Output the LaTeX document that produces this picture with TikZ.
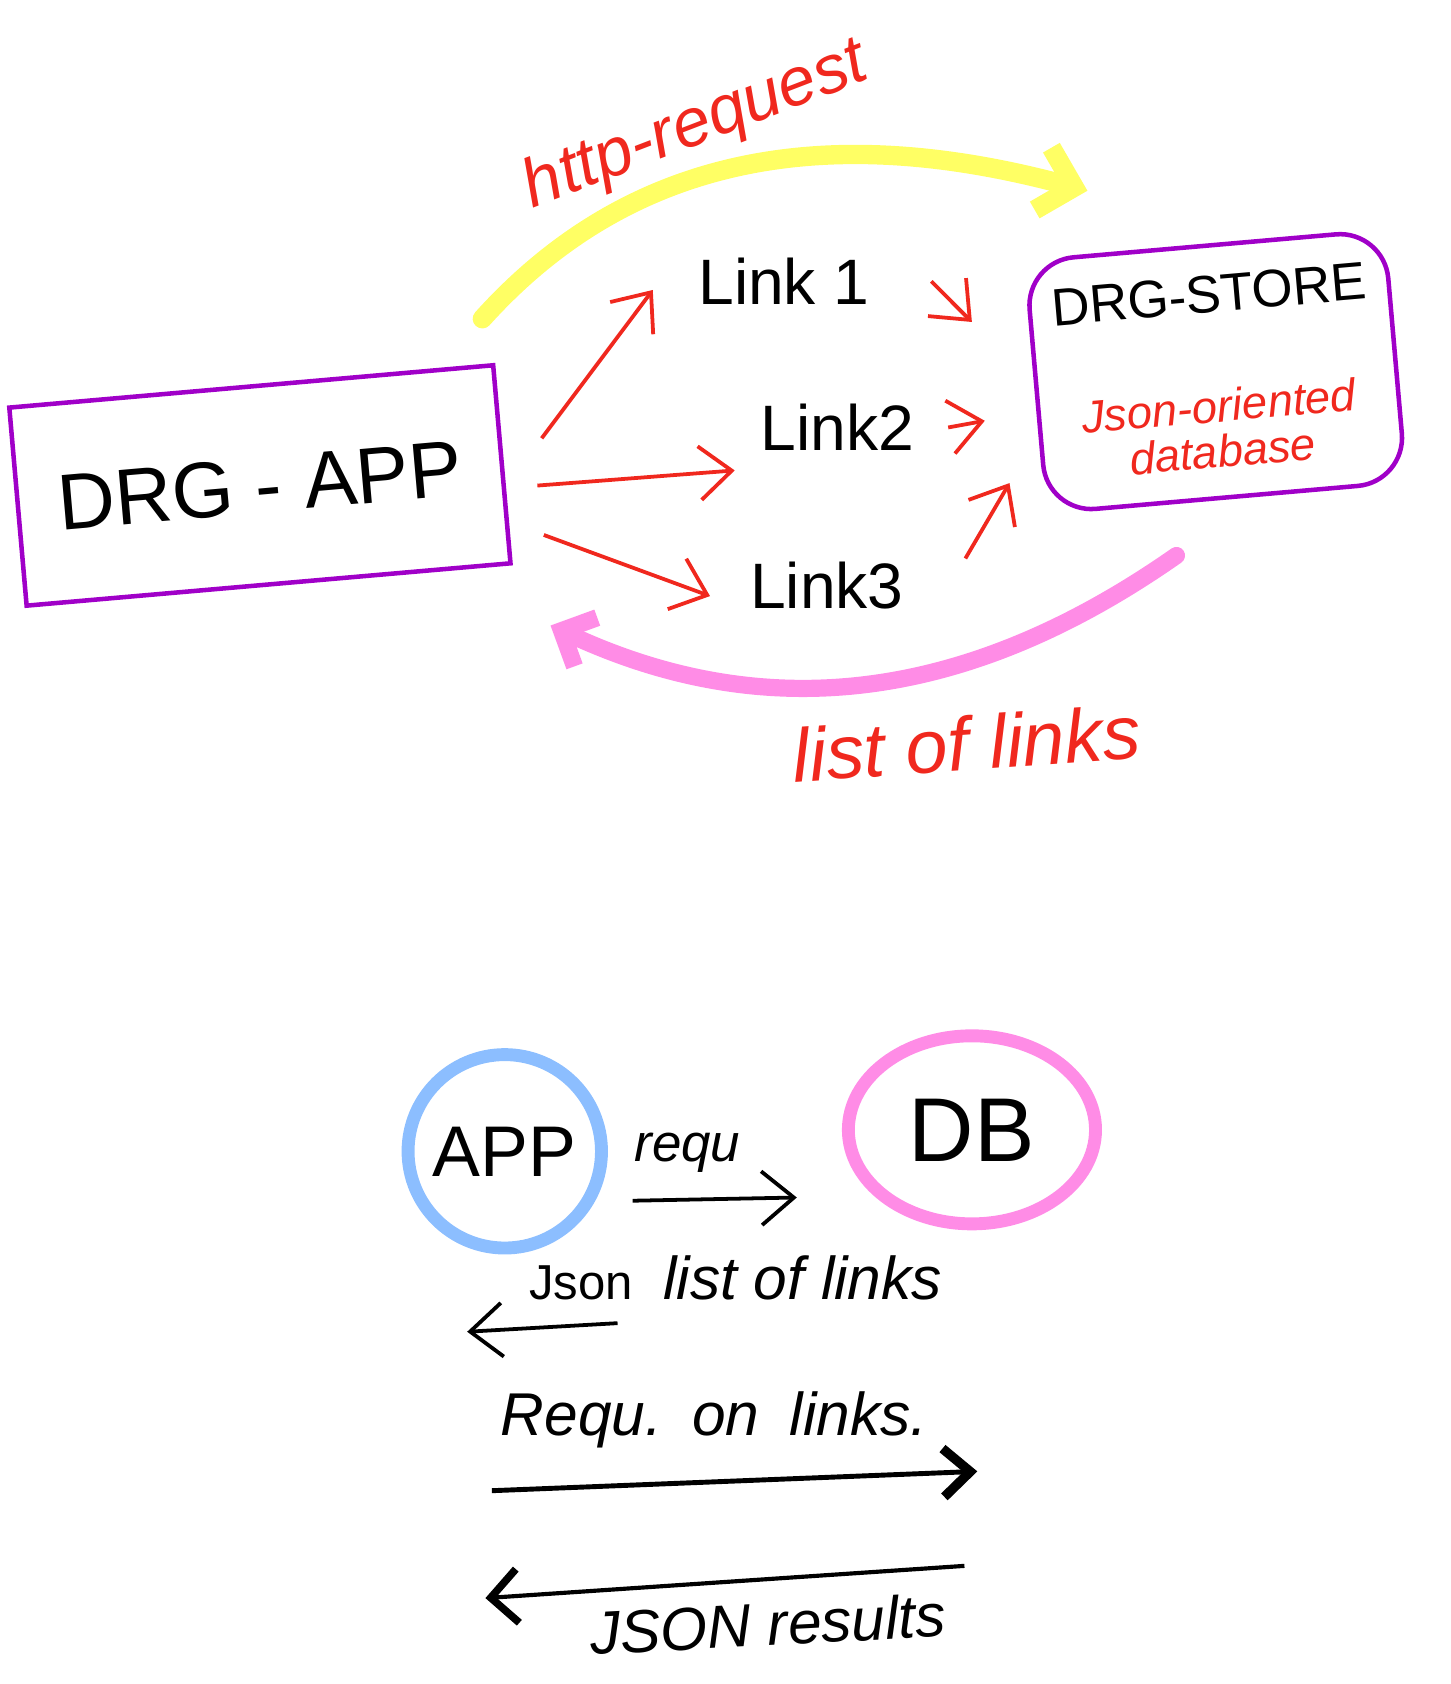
\documentclass[tikz,border=0pt]{standalone}
\usepackage{fontspec}
\setmainfont{Liberation Sans}
\usetikzlibrary{arrows.meta, shapes.geometric}

\definecolor{drgpurple}{RGB}{160,0,200}
\definecolor{drgred}{RGB}{240,40,30}
\definecolor{drgyellow}{RGB}{255,255,100}
\definecolor{drgpink}{RGB}{255,140,230}
\definecolor{drgblue}{RGB}{140,190,255}

\newcommand{\dbnote}{\color{drgred}\itshape\fontsize{12}{14}\selectfont}

\begin{document}
\begin{tikzpicture}[x=0.01cm, y=0.01cm,
  box/.style={draw=drgpurple, line width=1.2pt, rotate=5},
  linktext/.style={font=\fontsize{17}{20}\selectfont},
  redlabel/.style={text=drgred, font=\itshape\fontsize{18}{21}\selectfont},
  redarrow/.style={->, drgred, line width=1pt},
  blackarrow/.style={->, black, line width=1pt},
  >={Straight Barb[length=3mm, width=5mm]}]

% frame
\useasboundingbox (0,0) rectangle (1351,-1568);

% boxes
\node[box, minimum width=4.52cm, minimum height=1.85cm] (app) at (242,-452)
  {\fontsize{21}{25}\selectfont DRG - APP};
\node[box, rounded corners=0.45cm, minimum width=3.35cm, minimum height=2.35cm, align=center] (store) at (1132,-346)
  {\fontsize{14}{17}\selectfont DRG-STORE\\[6mm]
   \dbnote Json-oriented\\\dbnote database};

% links
\node[linktext] (link1) at (730,-262) {Link 1};
\node[linktext] (link2) at (780,-398) {Link2};
\node[linktext] (link3) at (770,-545) {Link3};

\draw[redarrow] ([shift={(35,24)}]app.east) -- ([shift={(-30,-8)}]link1.west);
\draw[redarrow] ([shift={(31,-20)}]app.east) -- ([shift={(-12,-40)}]link2.west);
\draw[redarrow] ([shift={(37,-66)}]app.east) -- ([shift={(-25,-10)}]link3.west);

\draw[redarrow] ([shift={(45,0)}]link1.east) -- ([shift={(-58,61)}]store.west);
\draw[redarrow] ([shift={(19,0)}]link2.east) -- ([shift={(-46,-31)}]store.west);
\draw[redarrow] ([shift={(45,25)}]link3.east) -- ([shift={(-23,-89)}]store.west);

% request and answer
\draw[drgyellow, line width=0.18cm, line cap=round, -{Straight Barb[length=3mm, width=6mm]}]
  ([shift={(-12,41)}]app.north east) to[out=48, in=165] ([shift={(60,64)}]store.north west);
\node[redlabel, rotate=21] (http) at (648,-118) {http-request};

\draw[drgpink, line width=0.16cm, line cap=round, -{Straight Barb[length=2.5mm, width=5mm]}]
  ([shift={(-47,-52)}]store.south) to[out=215, in=-25] ([shift={(35,-56)}]app.south east);
\node[redlabel, font=\itshape\fontsize{20}{24}\selectfont, rotate=4] (listlinks) at (900,-692) {list of links};

% short version
\node[circle, draw=drgblue, line width=0.12cm, minimum size=1.8cm, font=\fontsize{19}{23}\selectfont] (app2) at (470,-1072) {APP};
\node[ellipse, draw=drgpink, line width=0.12cm, minimum width=2.3cm, minimum height=1.75cm, font=\fontsize{24}{28}\selectfont] (db) at (905,-1052) {DB};

\draw[blackarrow] ([shift={(23,-46)}]app2.east) -- ([shift={(-42,-63)}]db.west);
\node[font=\itshape\fontsize{14}{17}\selectfont] (requ) at (640,-1073) {requ};

\coordinate (jsons) at (575,-1232);
\coordinate (jsone) at (435,-1240);
\draw[blackarrow] (jsons) -- (jsone);
\node[font=\itshape\fontsize{16}{19}\selectfont] (jsonlist) at (685,-1190)
  {{\upshape\fontsize{13}{16}\selectfont Json}\enspace list of links};

\coordinate (links) at (458,-1388);
\coordinate (linke) at (910,-1370);
\draw[line width=1.3pt, -{Straight Barb[length=2.5mm, width=4.5mm, line width=2.5pt]}] (links) -- (linke);
\node[font=\itshape\fontsize{16}{19}\selectfont] (requon) at (665,-1322) {Requ.\enspace on\enspace links.};

\coordinate (ress) at (898,-1458);
\coordinate (rese) at (452,-1488);
\draw[line width=1.1pt, -{Straight Barb[length=2.5mm, width=5mm, line width=2pt]}] (ress) -- (rese);
\node[font=\itshape\fontsize{16}{19}\selectfont, rotate=3] (results) at (715,-1512) {JSON results};

\end{tikzpicture}
\end{document}
